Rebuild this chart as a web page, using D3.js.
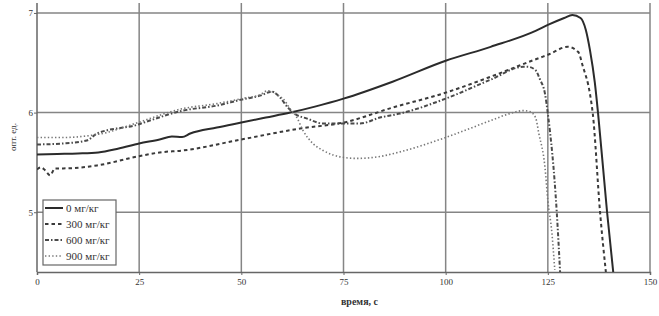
<!DOCTYPE html>
<html>
<head>
<meta charset="utf-8">
<script src="https://cdn.jsdelivr.net/npm/d3@7"></script>
<style>
    body { margin: 0; background: #fff; }
    text { font-family: "Liberation Serif", "DejaVu Serif", serif; fill: #333; }
</style>
</head>
<body>
<svg id="canvas" width="659" height="316"></svg>
<script>
// Series data: [time, c; value, opt. units].
var dose0 = [[0, 5.58], [5, 5.585], [10, 5.59], [15, 5.6], [20, 5.64], [25, 5.69], [30, 5.73],
    [33, 5.76], [35.5, 5.755], [37.5, 5.79], [44, 5.85], [50, 5.9], [56, 5.95], [62, 6.0], [68, 6.06],
    [75, 6.14], [87, 6.31], [100, 6.52], [111, 6.66], [122, 6.82], [125, 6.88], [129, 6.95],
    [131, 6.98], [133, 6.95], [134.3, 6.83], [135.3, 6.63], [136.5, 6.3], [137.3, 5.99],
    [139.5, 5.0], [141, 4.4]];
var dose300 = [[0, 5.43], [1, 5.45], [2, 5.42], [3.2, 5.37], [4.4, 5.44], [6.4, 5.44], [14.7, 5.47],
    [24.7, 5.56], [30, 5.6], [35.7, 5.62], [50, 5.73], [64.4, 5.84], [75, 5.9], [87, 6.05],
    [100, 6.2], [111, 6.36], [123, 6.55], [125, 6.58], [129.9, 6.66], [132.4, 6.61], [133.6, 6.46],
    [135.3, 6.19], [136, 5.99], [137.8, 4.99], [139.2, 4.4]];
var dose600 = [[0, 5.68], [6.4, 5.69], [12.2, 5.72], [14.7, 5.79], [24.7, 5.88], [27.6, 5.92],
    [35.7, 6.02], [44, 6.07], [50, 6.13], [54.6, 6.17], [57.5, 6.21], [59.5, 6.15], [61.4, 6.05],
    [63, 5.99], [66.1, 5.94], [70, 5.89], [74, 5.89], [79, 5.89], [83.9, 5.95], [88.8, 5.99],
    [100, 6.14], [111, 6.33], [119, 6.46], [120, 6.46], [121.9, 6.43], [123.1, 6.33],
    [124.3, 6.19], [125, 5.99], [127.2, 4.99], [128, 4.4]];
var dose900 = [[0, 5.75], [6.4, 5.75], [13, 5.77], [17.1, 5.8], [21, 5.85], [24.7, 5.9],
    [35.7, 6.04], [44, 6.09], [50, 6.14], [54.6, 6.18], [56.5, 6.22], [59.5, 6.16], [60.2, 6.14],
    [61.9, 6.04], [63.6, 5.95], [65.1, 5.82], [67.5, 5.69], [70, 5.62], [75, 5.55], [78.3, 5.54],
    [84, 5.56], [88.3, 5.6], [100, 5.75], [111, 5.92], [115.7, 5.99], [119, 6.02], [120.6, 6.01],
    [122, 5.95], [122.8, 5.79], [124.3, 5.45], [125, 5.12], [126, 4.79], [126.7, 4.42]];

var seriesNames = ["0 мг/кг", "300 мг/кг", "600 мг/кг", "900 мг/кг"];
var xTicks = [0, 25, 50, 75, 100, 125, 150];
var yTicks = [5, 6, 7];

(function () {

    var svg = d3.select("#canvas");
    var left = 37, right = 650, top = 3, bottom = 272;

    // Scales. The plot bottom sits at 4.4 units, the top a bit above 7.
    var xScale = d3.scaleLinear().domain([0, 150]).range([left, right]);
    var yScale = d3.scaleLinear().domain([4.4, 7.1]).range([bottom, top]);

    // Line styles for each dose.
    var styles = [
        { color: "#2b2b2b", width: 2, dash: null },
        { color: "#3a3a3a", width: 2, dash: "3.5,3" },
        { color: "#4a4a4a", width: 2, dash: "4,2,1.5,2" },
        { color: "#777", width: 1.6, dash: "1.4,2.2" }
    ];
    var series = [dose0, dose300, dose600, dose900];

    // Grid lines.
    svg.append("g").selectAll("line")
        .data(xTicks.slice(1))
        .join("line")
        .attr("x1", d => xScale(d)).attr("x2", d => xScale(d))
        .attr("y1", top).attr("y2", bottom)
        .attr("stroke", "#858585").attr("stroke-width", 1.5);
    svg.append("g").selectAll("line")
        .data(yTicks)
        .join("line")
        .attr("x1", left).attr("x2", right)
        .attr("y1", d => yScale(d)).attr("y2", d => yScale(d))
        .attr("stroke", "#858585").attr("stroke-width", 1.5);

    // Axes.
    var xAxis = d3.axisBottom(xScale).tickValues(xTicks).tickSize(3).tickPadding(4);
    var yAxis = d3.axisLeft(yScale).tickValues(yTicks).tickFormat(d3.format("d"))
        .tickSize(3).tickPadding(1);
    var gx = svg.append("g")
        .attr("transform", "translate(0," + bottom + ")")
        .call(xAxis);
    var gy = svg.append("g")
        .attr("transform", "translate(" + left + ",0)")
        .call(yAxis);
    [gx, gy].forEach(function (g) {
        g.select(".domain").attr("stroke", "#666").attr("stroke-width", 1.5);
        g.selectAll(".tick line").attr("stroke", "#666");
        g.selectAll("text").attr("font-size", 9).attr("font-family", "Liberation Serif").attr("fill", "#444");
    });
    gy.select(".domain").attr("d", "M0," + top + "V" + bottom);

    // Axis titles.
    svg.append("text")
        .attr("x", (left + right) / 2 + 16).attr("y", 305)
        .attr("text-anchor", "middle")
        .attr("font-size", 10)
        .attr("font-weight", "bold")
        .attr("fill", "#444")
        .text("время, с");
    svg.append("text")
        .attr("transform", "translate(16,137) rotate(-90)")
        .attr("text-anchor", "middle")
        .attr("font-size", 9)
        .attr("fill", "#555")
        .text("опт. ед.");

    // Curves, clipped to the plot area.
    svg.append("clipPath").attr("id", "plot")
        .append("rect")
        .attr("x", left).attr("y", top)
        .attr("width", right - left).attr("height", bottom - top);
    var line = d3.line()
        .x(d => xScale(d[0]))
        .y(d => yScale(d[1]))
        .curve(d3.curveMonotoneX);
    svg.append("g").attr("clip-path", "url(#plot)")
        .selectAll("path")
        .data(series)
        .join("path")
        .attr("fill", "none")
        .attr("stroke", (d, i) => styles[i].color)
        .attr("stroke-width", (d, i) => styles[i].width)
        .attr("stroke-dasharray", (d, i) => styles[i].dash)
        .attr("d", line);

    // Legend box.
    var legend = svg.append("g").attr("transform", "translate(43,200)");
    legend.append("rect")
        .attr("width", 73).attr("height", 65)
        .attr("fill", "#fff")
        .attr("stroke", "#666").attr("stroke-width", 1.2);
    var item = legend.selectAll("g")
        .data(seriesNames)
        .join("g")
        .attr("transform", (d, i) => "translate(0," + (8 + i * 16) + ")");
    item.append("line")
        .attr("x1", 2).attr("x2", 20)
        .attr("stroke", (d, i) => styles[i].color)
        .attr("stroke-width", (d, i) => styles[i].width)
        .attr("stroke-dasharray", (d, i) => styles[i].dash);
    item.append("text")
        .attr("x", 23).attr("dy", "0.35em")
        .attr("font-size", 11)
        .text(d => d);

})();
</script>
</body>
</html>
